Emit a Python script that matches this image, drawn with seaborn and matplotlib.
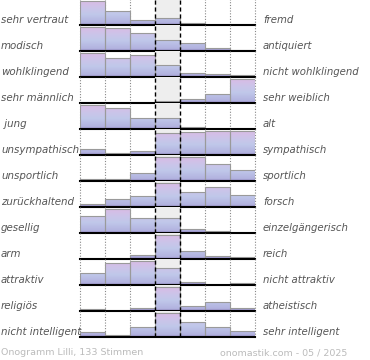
import numpy as np
import pandas as pd
import matplotlib
matplotlib.use('Agg')
import matplotlib.pyplot as plt
from matplotlib.colors import LinearSegmentedColormap
import seaborn as sns

# %%
left_labels = ['sehr vertraut', 'modisch', 'wohlklingend', 'sehr männlich', ' jung',
               'unsympathisch', 'unsportlich', 'zurückhaltend', 'gesellig', 'arm',
               'attraktiv', 'religiös', 'nicht intelligent']
right_labels = ['fremd', 'antiquiert', 'nicht wohlklingend', 'sehr weiblich', 'alt',
                'sympathisch', 'sportlich', 'forsch', 'einzelgängerisch', 'reich',
                'nicht attraktiv', 'atheistisch', 'sehr intelligent']
steps = ['1', '2', '3', '4', '5', '6', '7']

# share per step, relative to the largest step of each row (=100)
row_values = [
    [100, 59, 22, 28, 10, 0, 0],
    [100, 94, 74, 46, 34, 12, 6],
    [100, 79, 92, 50, 17, 11, 8],
    [0, 0, 0, 9, 16, 38, 100],
    [100, 84, 44, 44, 10, 0, 0],
    [25, 10, 18, 90, 94, 100, 100],
    [10, 10, 32, 100, 100, 69, 44],
    [13, 34, 45, 100, 60, 83, 50],
    [68, 100, 63, 63, 17, 7, 0],
    [0, 0, 17, 100, 32, 14, 7],
    [51, 89, 100, 69, 14, 0, 9],
    [9, 0, 14, 100, 21, 38, 14],
    [21, 9, 42, 100, 63, 42, 26],
]
footer_left = 'Onogramm Lilli, 133 Stimmen'
footer_right = 'onomastik.com - 05 / 2025'

# %%
W, H = 370, 360
fig = plt.figure(figsize=(W / 100, H / 100), dpi=100)

grad = LinearSegmentedColormap.from_list(
    'ono', [(0, '#968ac6'), (0.08, '#b2b2df'), (0.4, '#c0c8ea'), (0.65, '#ccc4e9'), (1, '#deb9e4')])
g = np.linspace(0, 1, 64).reshape(-1, 1)

x0, x1 = 80, 255
row_h = 26
top = 100 / 0.94

for i, vals in enumerate(row_values):
    base = 25 + row_h * i
    ax = fig.add_axes([x0 / W, (H - base) / H, (x1 - x0) / W, row_h / H])
    df = pd.DataFrame({'step': steps, 'val': vals})
    sns.barplot(data=df, x='step', y='val', width=1, color='white', edgecolor='#9a9a9a',
                linewidth=0.8, errorbar=None, ax=ax, zorder=2)
    for bar in list(ax.patches):
        bar.set_facecolor('none')
        im = ax.imshow(g, cmap=grad, origin='lower', aspect='auto', interpolation='bilinear',
                       extent=(bar.get_x(), bar.get_x() + bar.get_width(), 0, top), zorder=1.5)
        im.set_clip_path(bar)

    ax.axvspan(2.5, 3.5, color='#eeeeee', zorder=0.5, lw=0)
    for xv in [-0.5, 0.5, 1.5, 4.5, 5.5, 6.5]:
        ax.axvline(xv, color='#888888', lw=0.8, ls=(0, (1, 1.5)), zorder=1, clip_on=False)
    for xv in [2.5, 3.5]:
        ax.axvline(xv, color='black', lw=1.0, ls=(0, (3, 2)), zorder=3, clip_on=False)
    ax.axhline(0, color='black', lw=1.5, zorder=4, clip_on=False)

    ax.set_xlim(-0.5, 6.5)
    ax.set_ylim(0, top)
    ax.axis('off')

    fig.text(1 / W, 1 - (base - 2) / H, left_labels[i], ha='left', va='baseline',
             fontsize=7.4, style='italic', color='#555555')
    fig.text(263 / W, 1 - (base - 2) / H, right_labels[i], ha='left', va='baseline',
             fontsize=7.3, style='italic', color='#555555')

fig.text(1 / W, 1 - 355 / H, footer_left, ha='left', va='baseline', fontsize=6.8, color='#bbbbbb')
fig.text(347 / W, 1 - 355 / H, footer_right, ha='right', va='baseline', fontsize=6.8, color='#bbbbbb')

fig.savefig('out.png', dpi=100)
